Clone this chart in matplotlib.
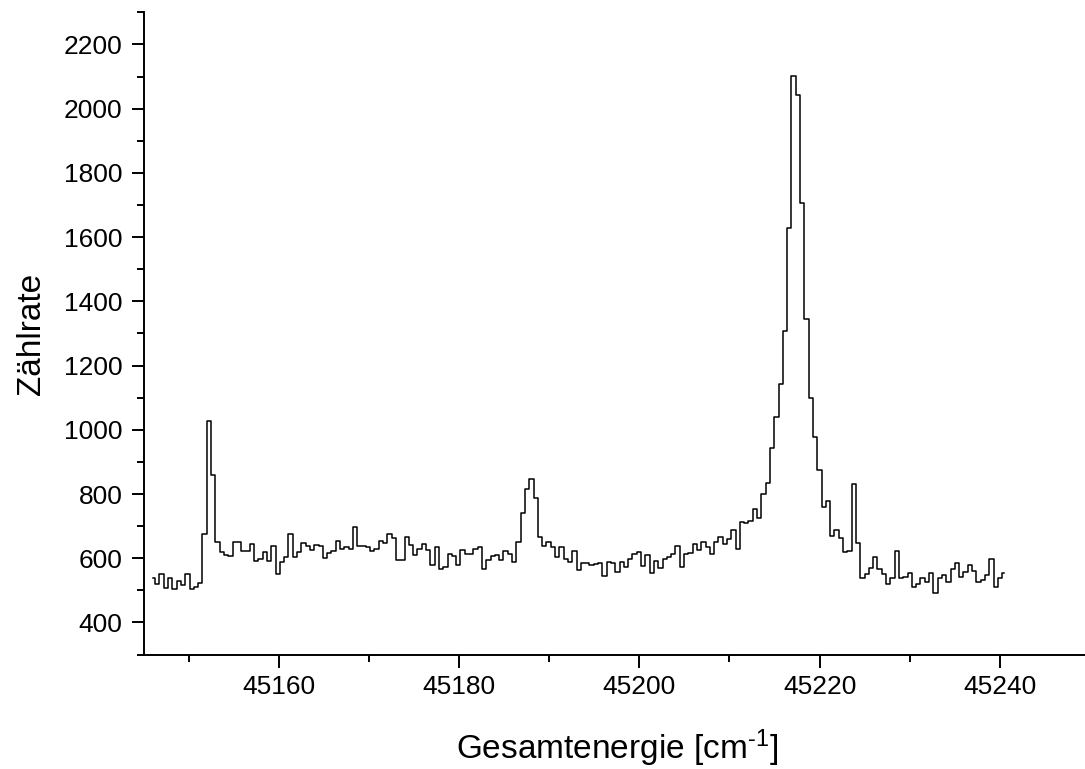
#!/usr/bin/python3
# Spektrum: Zaehlrate gegen Gesamtenergie (Treppenplot)
import numpy as np
import matplotlib
matplotlib.use("Agg")
import matplotlib.pyplot as plt
from matplotlib.ticker import MultipleLocator

# Energie-Raster (cm^-1): erster Punkt und Schrittweite
energy_start = 45146.05
energy_step = 0.477

# Zaehlrate pro Kanal
counts = [
    537, 519, 550, 508, 540, 504, 528, 516, 550, 504,
    509, 524, 676, 1028, 858, 649, 620, 610, 607, 652,
    649, 623, 623, 643, 590, 597, 618, 590, 639, 552,
    589, 604, 674, 604, 619, 648, 638, 625, 642, 639,
    601, 617, 623, 655, 628, 636, 629, 696, 639, 637,
    636, 622, 629, 654, 648, 674, 663, 594, 594, 665,
    640, 610, 628, 644, 626, 580, 634, 568, 573, 614,
    607, 580, 625, 614, 612, 630, 636, 565, 593, 608,
    609, 596, 622, 612, 589, 649, 741, 817, 848, 788,
    667, 639, 649, 636, 605, 634, 597, 587, 623, 563,
    584, 584, 580, 582, 584, 546, 589, 586, 556, 589,
    572, 598, 613, 618, 577, 610, 553, 590, 570, 597,
    603, 613, 639, 574, 613, 615, 644, 626, 649, 636,
    612, 649, 667, 643, 659, 689, 628, 714, 710, 715,
    752, 726, 800, 833, 944, 1040, 1144, 1307, 1629, 2101,
    2044, 1707, 1346, 1098, 978, 874, 760, 778, 669, 688,
    662, 619, 622, 831, 648, 540, 550, 571, 603, 565,
    551, 520, 537, 623, 537, 543, 555, 511, 519, 537,
    525, 553, 491, 540, 548, 527, 566, 584, 543, 558,
    579, 561, 526, 532, 547, 598, 511, 540, 555,
]

energy = energy_start + energy_step * np.arange(len(counts))

plt.rcParams['font.family'] = ['Liberation Sans', 'DejaVu Sans']
plt.rcParams['mathtext.fontset'] = 'custom'
plt.rcParams['mathtext.rm'] = 'Liberation Sans'
plt.rcParams['mathtext.default'] = 'regular'

fig = plt.figure(figsize=(10.85, 7.69), dpi=100)
ax = fig.add_axes([0.1323, 0.1488, 0.8723, 0.8352])

ax.step(energy, counts, where='mid', color='black', linewidth=1.1)

ax.set_xlim(45145, 45250)
ax.set_ylim(300, 2300)

ax.xaxis.set_major_locator(MultipleLocator(20))
ax.xaxis.set_minor_locator(MultipleLocator(10))
ax.yaxis.set_major_locator(MultipleLocator(200))
ax.yaxis.set_minor_locator(MultipleLocator(100))
ax.set_yticks(np.arange(400, 2201, 200))

for side in ['top', 'right']:
    ax.spines[side].set_visible(False)
for side in ['left', 'bottom']:
    ax.spines[side].set_linewidth(1.4)

ax.tick_params(which='major', direction='out', length=9, width=1.4,
               labelsize=19, pad=6)
ax.tick_params(which='minor', direction='out', length=4.8, width=1.4)

ax.set_xlabel(r'Gesamtenergie [cm$^{\text{-1}}$]', fontsize=24, labelpad=20)
ax.set_ylabel('Zählrate', fontsize=24, labelpad=12)

fig.savefig('out.png', dpi=100)
